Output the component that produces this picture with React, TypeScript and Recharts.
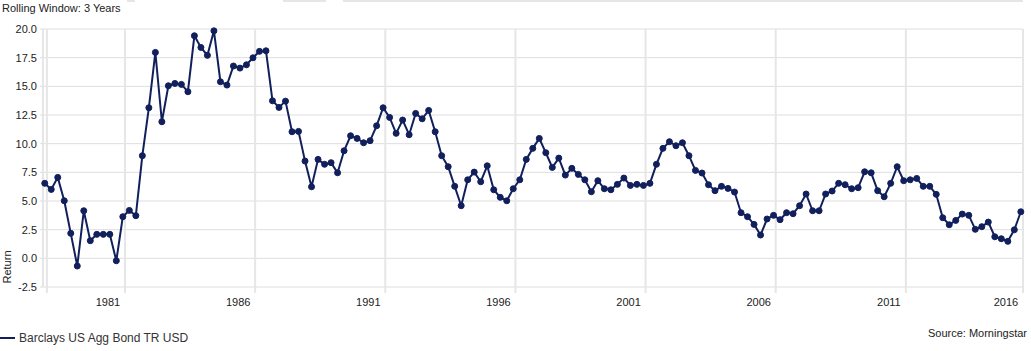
import React from 'react';
import { LineChart, Line, XAxis, YAxis, CartesianGrid, Legend } from 'recharts';

const SERIES_NAME = 'Barclays US Agg Bond TR USD';
const NAVY = '#11205c';
const FONT = '"Liberation Sans", Arial, sans-serif';

// first 3-year rolling window ends Nov 1977, then one point every quarter
const FIRST_YEAR = 1977;
const FIRST_MONTH = 11;

const returns3y = [
  6.54, 6.01, 7.06, 5.02, 2.18, -0.67, 4.15, 1.54, 2.09, 2.09,
  2.09, -0.21, 3.63, 4.18, 3.72, 8.95, 13.13, 17.96, 11.91, 15.05,
  15.25, 15.17, 14.53, 19.41, 18.39, 17.7, 19.84, 15.4, 15.11, 16.77,
  16.59, 16.88, 17.49, 18.05, 18.1, 13.74, 13.16, 13.71, 11.04, 11.07,
  8.48, 6.24, 8.63, 8.2, 8.34, 7.46, 9.38, 10.69, 10.46, 10.08,
  10.26, 11.56, 13.13, 12.29, 10.9, 12.06, 10.78, 12.64, 12.17, 12.9,
  11.04, 8.95, 7.99, 6.28, 4.59, 6.85, 7.52, 6.68, 8.07, 5.98,
  5.32, 5.02, 6.07, 6.85, 8.63, 9.59, 10.46, 9.21, 7.93, 8.74,
  7.26, 7.85, 7.32, 6.85, 5.81, 6.77, 6.07, 5.98, 6.45, 7.0,
  6.36, 6.45, 6.36, 6.54, 8.2, 9.59, 10.17, 9.82, 10.08, 8.95,
  7.67, 7.44, 6.42, 5.9, 6.28, 6.1, 5.78, 3.98, 3.63, 2.96,
  2.03, 3.43, 3.75, 3.37, 3.98, 3.89, 4.59, 5.61, 4.15, 4.15,
  5.61, 5.87, 6.54, 6.42, 6.07, 6.16, 7.55, 7.46, 5.9, 5.37,
  6.54, 7.99, 6.77, 6.85, 6.97, 6.28, 6.28, 5.58, 3.54, 2.93,
  3.31, 3.86, 3.75, 2.53, 2.76, 3.16, 1.88, 1.71, 1.48, 2.49,
  4.06,
];

const xTicks = [1978, 1981, 1986, 1991, 1996, 2001, 2006, 2011, 2015.5];
const xTickLabels = ['', '1981', '1986', '1991', '1996', '2001', '2006', '2011', '2016'];
const yTicks = [-2.5, 0, 2.5, 5, 7.5, 10, 12.5, 15, 17.5, 20];

const data = returns3y.map((value, i) => {
  const m = FIRST_MONTH - 1 + i * 3;
  const year = FIRST_YEAR + Math.floor(m / 12);
  const month = (m % 12) + 1;
  return { date: year + month / 12, value };
});

function XTick(props: any) {
  const { x, y, payload } = props;
  const idx = xTicks.indexOf(payload.value);
  const label = idx >= 0 ? xTickLabels[idx] : '';
  if (!label) return null;
  return (
    <text x={x - 17} y={y + 11} textAnchor="middle" fontSize={11} fontFamily={FONT} fill="#222">
      {label}
    </text>
  );
}

function LegendContent() {
  return (
    <svg width={300} height={20}>
      <line x1={0} y1={10} x2={15} y2={10} stroke={NAVY} strokeWidth={2} />
      <text x={19} y={14} fontSize={12} fontFamily={FONT} fill="#333">{SERIES_NAME}</text>
    </svg>
  );
}

export default function App() {
  return (
    <div style={{ position: 'relative', width: 1031, height: 351, background: '#fff', overflow: 'hidden' }}>
      <style>{'body{margin:0}'}</style>
      <LineChart width={1031} height={351} data={data} margin={{ top: 29, right: 8, bottom: 14, left: 0 }}>
        <CartesianGrid vertical={false} stroke="#dedede" strokeWidth={1} />
        <CartesianGrid horizontal={false} stroke="#e6e6e6" strokeWidth={2} />
        <XAxis
          type="number"
          dataKey="date"
          scale="linear"
          domain={[1977.85, 2015.5]}
          ticks={xTicks}
          interval={0}
          height={30}
          axisLine={false}
          tickSize={6}
          tickMargin={2}
          tickLine={{ stroke: '#e6e6e6', strokeWidth: 2 }}
          tick={<XTick />}
        />
        <YAxis
          type="number"
          domain={[-2.5, 20]}
          ticks={yTicks}
          interval={0}
          width={43}
          axisLine={false}
          tickSize={3}
          tickMargin={3}
          tickLine={{ stroke: '#dedede' }}
          tickFormatter={(v: number) => v.toFixed(1)}
          tick={{ fontSize: 11, fontFamily: FONT, fill: '#222' }}
          label={(p: any) => (
            <text
              x={7}
              y={267}
              transform="rotate(-90 7 267)"
              textAnchor="middle"
              dominantBaseline="central"
              fontSize={11}
              fontFamily={FONT}
              fill="#222"
            >
              Return
            </text>
          )}
        />
        <Legend
          content={<LegendContent />}
          wrapperStyle={{ position: 'absolute', left: 0, top: 328, width: 300, height: 20 }}
        />
        <Line
          type="linear"
          dataKey="value"
          name={SERIES_NAME}
          stroke={NAVY}
          strokeWidth={2}
          dot={{ r: 3, fill: NAVY, stroke: NAVY, strokeWidth: 1 }}
          activeDot={false}
          isAnimationActive={false}
        />
      </LineChart>
      <svg width={1031} height={351} style={{ position: 'absolute', left: 0, top: 0, pointerEvents: 'none' }}>
        <rect x={127} y={0} width={8} height={2} fill="#e6e6e6" />
        <rect x={283} y={0} width={43} height={2} fill="#e6e6e6" />
        <rect x={343} y={0} width={680} height={2} fill="#e6e6e6" />
        <text x={2} y={12} fontSize={11} fontFamily={FONT} fill="#222">Rolling Window: 3 Years</text>
        <text x={1027} y={337} textAnchor="end" fontSize={11} fontFamily={FONT} fill="#222">Source: Morningstar</text>
      </svg>
    </div>
  );
}
